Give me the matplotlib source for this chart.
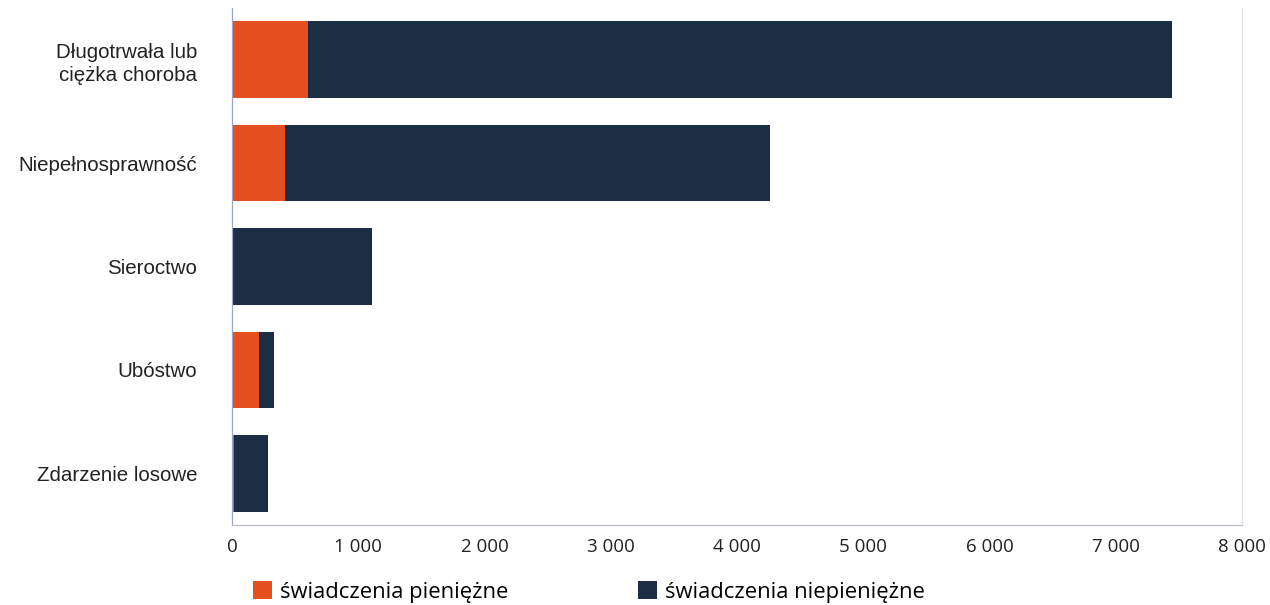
import numpy as np
import matplotlib
matplotlib.use('Agg')
import matplotlib.pyplot as plt
from matplotlib.ticker import FuncFormatter

categories = ['Długotrwała lub\nciężka choroba', 'Niepełnosprawność', 'Sieroctwo',
              'Ubóstwo', 'Zdarzenie losowe']
pieniezne = [602, 420, 8, 214, 16]
niepieniezne = [6844, 3841, 1101, 119, 269]
series_names = ['świadczenia pieniężne', 'świadczenia niepieniężne']
xticks = [0, 1000, 2000, 3000, 4000, 5000, 6000, 7000, 8000]

orange = '#E4501F'
navy = '#1C2E44'

plt.rcParams['font.family'] = ['Liberation Sans', 'DejaVu Sans']

fig = plt.figure(figsize=(12.7, 6.05), dpi=100)
ax = fig.add_axes([232 / 1270, 80 / 605, 1010 / 1270, 517 / 605])

y = np.arange(len(categories))
ax.barh(y, pieniezne, height=0.74, color=orange, label=series_names[0])
ax.barh(y, niepieniezne, left=pieniezne, height=0.74, color=navy, label=series_names[1])

ax.set_ylim(len(categories) - 0.5, -0.5)
ax.set_xlim(0, 8000)
ax.set_yticks(y)
ax.set_yticklabels(categories, fontsize=14.8, color='#222222', linespacing=1.3)
ax.set_xticks(xticks)
ax.xaxis.set_major_formatter(FuncFormatter(lambda v, p: f'{int(v):,}'.replace(',', ' ')))
for lab in ax.get_xticklabels():
    lab.set_family(['Open Sans', 'DejaVu Sans'])
    lab.set_fontsize(13.5)
    lab.set_color('#222222')
ax.tick_params(axis='y', length=0, pad=25)
ax.tick_params(axis='x', length=0, pad=9)

ax.spines['top'].set_visible(False)
ax.spines['left'].set_color('#9AA6C8')
ax.spines['bottom'].set_color('#B8BCC8')
ax.spines['right'].set_color('#E4E6EC')
for s in ['left', 'bottom', 'right']:
    ax.spines[s].set_linewidth(0.9)

fs = 15.8
fig.legend(loc='center left', bbox_to_anchor=((242 - 0.4 * fs * 100 / 72) / 1270, 1 - 592 / 605),
           ncol=2, frameon=False, handlelength=0.87, handleheight=0.87,
           handletextpad=0.37, columnspacing=5.9,
           prop={'family': ['Open Sans', 'DejaVu Sans'], 'size': fs})

fig.savefig('out.png', dpi=100)
